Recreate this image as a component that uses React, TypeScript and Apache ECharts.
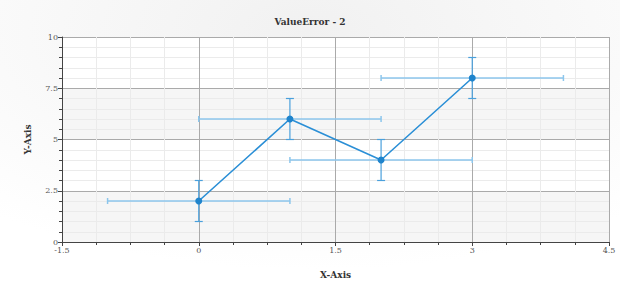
import React, { useEffect, useRef } from "react";
import * as echarts from "echarts";

const xValues = [0, 1, 2, 3];
const yValues = [2, 6, 4, 8];
const xLow = [-1, 0, 1, 2];
const xHigh = [1, 2, 3, 4];
const yLow = [1, 5, 3, 7];
const yHigh = [3, 7, 5, 9];

const FONT = "DejaVu Serif";

export default function App() {
  const ref = useRef<HTMLDivElement>(null);
  useEffect(() => {
    if (!ref.current) return;
    const chart = echarts.init(ref.current, undefined, { renderer: "svg" });
    const errData = xValues.map((x, i) => [x, yValues[i], xLow[i], xHigh[i], yLow[i], yHigh[i]]);
    const hColor = "#8cc6ec";
    const vColor = "#4aa0dc";
    chart.setOption({
      animation: false,
      backgroundColor: {
        type: "radial",
        x: 0.5,
        y: 0.1,
        r: 0.8,
        colorStops: [
          { offset: 0, color: "#f1f1f1" },
          { offset: 1, color: "#ffffff" },
        ],
      },
      title: {
        text: "ValueError - 2",
        left: "center",
        top: 12,
        textStyle: { fontFamily: FONT, fontSize: 9, fontWeight: "bold", color: "#333" },
      },
      grid: { left: 62, right: 11, top: 37, bottom: 58, containLabel: false },
      xAxis: {
        type: "value",
        min: -1.5,
        max: 4.5,
        interval: 1.5,
        name: "X-Axis",
        nameLocation: "middle",
        nameGap: 28,
        nameTextStyle: { fontFamily: FONT, fontSize: 9, fontWeight: "bold", color: "#333" },
        axisLine: { show: true, onZero: false, lineStyle: { color: "#444", width: 1 } },
        axisTick: { show: true, length: 4, lineStyle: { color: "#444" } },
        minorTick: { show: true, splitNumber: 4, length: 3, lineStyle: { color: "#444" } },
        axisLabel: { fontFamily: FONT, fontSize: 8, color: "#555", margin: 4 },
        splitLine: { show: true, lineStyle: { color: "#aaaaaa", width: 1 } },
        minorSplitLine: { show: true, lineStyle: { color: "#ebebeb", width: 1 } },
      },
      yAxis: {
        type: "value",
        min: 0,
        max: 10,
        interval: 2.5,
        name: "Y-Axis",
        nameLocation: "middle",
        nameGap: 30,
        nameTextStyle: { fontFamily: FONT, fontSize: 9, fontWeight: "bold", color: "#333" },
        axisLine: { show: true, onZero: false, lineStyle: { color: "#444", width: 1 } },
        axisTick: { show: true, length: 4, lineStyle: { color: "#444" } },
        minorTick: { show: true, splitNumber: 5, length: 3, lineStyle: { color: "#444" } },
        axisLabel: { fontFamily: FONT, fontSize: 8, color: "#555", margin: 4 },
        splitLine: { show: true, lineStyle: { color: "#aaaaaa", width: 1 } },
        minorSplitLine: { show: true, lineStyle: { color: "#ebebeb", width: 1 } },
        splitArea: { show: true, areaStyle: { color: ["#f6f6f6", "#ffffff"] } },
      },
      series: [
        {
          type: "custom",
          z: 2,
          data: errData,
          renderItem: (params: any, api: any) => {
            const y = api.value(1);
            const p1 = api.coord([api.value(2), y]);
            const p2 = api.coord([api.value(3), y]);
            const cap = 3;
            const style = { stroke: hColor, lineWidth: 1.5 };
            return {
              type: "group",
              children: [
                { type: "line", shape: { x1: p1[0], y1: p1[1], x2: p2[0], y2: p2[1] }, style },
                { type: "line", shape: { x1: p1[0], y1: p1[1] - cap, x2: p1[0], y2: p1[1] + cap }, style },
                { type: "line", shape: { x1: p2[0], y1: p2[1] - cap, x2: p2[0], y2: p2[1] + cap }, style },
              ],
            };
          },
        },
        {
          type: "custom",
          z: 3,
          data: errData,
          renderItem: (params: any, api: any) => {
            const x = api.value(0);
            const p1 = api.coord([x, api.value(4)]);
            const p2 = api.coord([x, api.value(5)]);
            const cap = 4;
            const style = { stroke: vColor, lineWidth: 1.2 };
            return {
              type: "group",
              children: [
                { type: "line", shape: { x1: p1[0], y1: p1[1], x2: p2[0], y2: p2[1] }, style },
                { type: "line", shape: { x1: p1[0] - cap, y1: p1[1], x2: p1[0] + cap, y2: p1[1] }, style },
                { type: "line", shape: { x1: p2[0] - cap, y1: p2[1], x2: p2[0] + cap, y2: p2[1] }, style },
              ],
            };
          },
        },
        {
          type: "line",
          z: 4,
          data: xValues.map((x, i) => [x, yValues[i]]),
          symbol: "circle",
          symbolSize: 7,
          lineStyle: { color: "#2b8fd6", width: 1.6 },
          itemStyle: { color: "#1f84cc" },
        },
      ],
    });
    return () => chart.dispose();
  }, []);
  return <div ref={ref} style={{ position: "absolute", left: 0, top: 0, width: 620, height: 300 }} />;
}
